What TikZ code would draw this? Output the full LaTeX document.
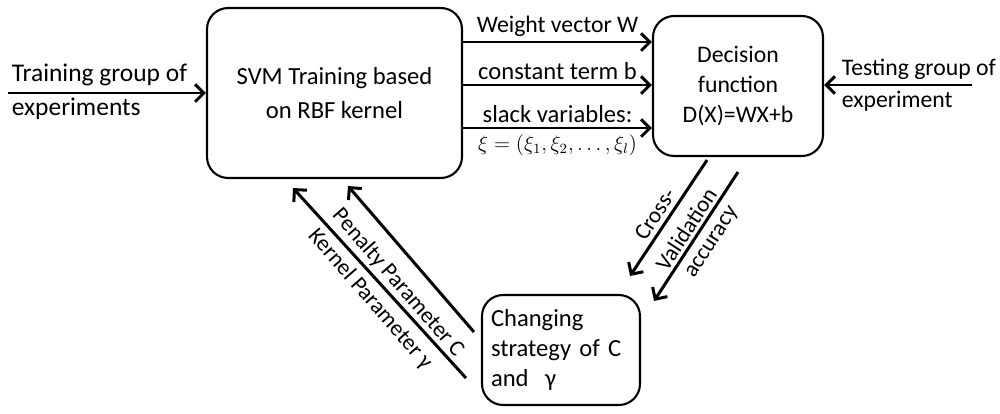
\documentclass[tikz,border=0pt]{standalone}
\usepackage{fontspec}
\setmainfont{Carlito}
\usetikzlibrary{arrows.meta,calc}

\begin{document}
\begin{tikzpicture}[x=0.02cm,y=-0.02cm,
  box/.style={draw,line width=1.2pt,rounded corners=12pt,align=center},
  flow/.style={-{Straight Barb[length=5pt,width=10pt]},line width=1.7pt},
  lbl/.style={font=\fontsize{14}{17}\selectfont,inner sep=2pt},
  rot/.style={font=\fontsize{13}{16}\selectfont,inner sep=1pt}]
  \useasboundingbox (0,0) rectangle (1000,413);

  %% Main blocks
  \node[box,minimum width=5.1cm,minimum height=3.4cm,font=\fontsize{14}{19}\selectfont]
        (svm) at (334.5,93) {SVM Training based\\on RBF kernel};
  \node[box,minimum width=3.4cm,minimum height=2.8cm,font=\fontsize{13.5}{17}\selectfont]
        (dec) at (738,86) {Decision\\function\\D(X)=WX+b};
  \node[box,align=left,text width=2.8cm,inner xsep=0.18cm,minimum height=2.2cm,
        font=\fontsize{14}{17}\selectfont]
        (chg) at (561,350) {Changing\\strategy of C\\and~ γ};

  %% Input / output of the experiments
  \coordinate (tin) at (8,93);
  \coordinate (tout) at (972,85);
  \draw[flow] (tin) -- (svm.west |- tin);
  \node[lbl,anchor=west,font=\fontsize{14.5}{17}\selectfont] (tinA) at (8,75) {Training group of};
  \node[lbl,anchor=west,font=\fontsize{14.5}{17}\selectfont] (tinB) at (8,109) {experiments};
  \draw[flow] (tout) -- (dec.east |- tout);
  \node[lbl,anchor=west,font=\fontsize{13.5}{17}\selectfont] (toutA) at (838,69) {Testing group of};
  \node[lbl,anchor=west,font=\fontsize{13.5}{17}\selectfont] (toutB) at (838,101) {experiment};

  %% Model parameters passed to the decision function
  \draw[flow] (svm.east |- 0,42) -- (dec.west |- 0,42)
        node[lbl,midway,above,font=\fontsize{13.5}{17}\selectfont] {Weight vector W};
  \draw[flow] (svm.east |- 0,85) -- (dec.west |- 0,85)
        node[lbl,midway,above] {constant term b};
  \draw[flow] (svm.east |- 0,128) -- (dec.west |- 0,128)
        node[lbl,midway,above] {slack variables:}
        node[lbl,midway,below,yshift=-1pt,font=\fontsize{12}{14}\selectfont]
        {$\xi=\left(\xi_1,\xi_2,\ldots,\xi_l\right)$};

  %% Cross-validation loop
  \draw[flow] ($(dec.south)+(-31,3)$) -- ($(chg.north)+(69,-18)$);
  \draw[flow] ($(dec.south)+(0,15)$) -- ($(chg.north east)+(13,7)$);
  \node[rot,rotate=57] (cvA) at (655,214) {Cross-};
  \node[rot,rotate=57] (cvB) at (686,229) {Validation};
  \node[rot,rotate=57] (cvC) at (713,243) {accuracy};

  \draw[flow] ($(chg.west)+(-7,-18)$) -- ($(svm.south)+(13.5,7)$);
  \draw[flow] ($(chg.west)+(-15,28)$) -- ($(svm.south)+(-41.5,9)$);
  \node[rot,rotate=-49] (pen) at (398,283) {Penalty Parameter C};
  \node[rot,rotate=-49] (ker) at (370,299) {Kernel Parameter γ};
\end{tikzpicture}
\end{document}
